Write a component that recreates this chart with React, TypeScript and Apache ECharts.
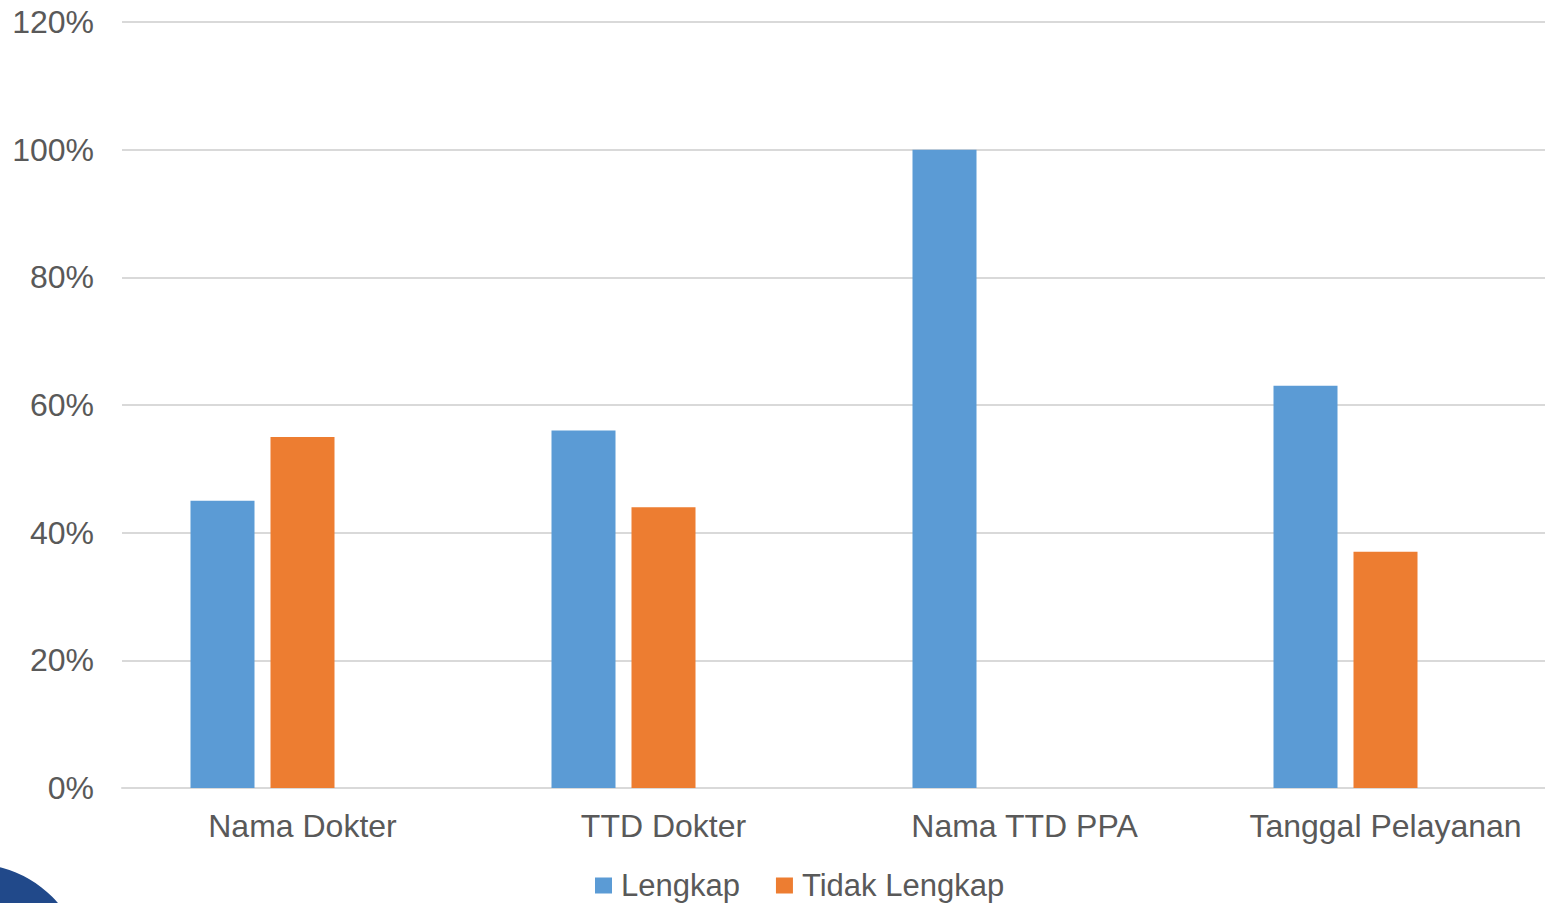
import React, { useEffect, useRef } from "react";
import * as echarts from "echarts";

const categories = ["Nama Dokter", "TTD Dokter", "Nama TTD PPA", "Tanggal Pelayanan"];
const lengkap = [45, 56, 100, 63];
const tidakLengkap = [55, 44, 0, 37];
const yTicks = { min: 0, max: 120, interval: 20 };

const FONT = "'Liberation Sans', Arial, sans-serif";
const TEXT = "#595959";

export default function App() {
  const ref = useRef<HTMLDivElement>(null);
  useEffect(() => {
    if (!ref.current) return;
    const chart = echarts.init(ref.current, null, { renderer: "svg" });
    chart.setOption({
      animation: false,
      backgroundColor: "#ffffff",
      textStyle: { fontFamily: FONT },
      grid: { left: 122, right: 0, top: 22, bottom: 115, containLabel: false },
      legend: {
        data: ["Lengkap", "Tidak Lengkap"],
        left: 595,
        top: 870,
        padding: 0,
        itemWidth: 17,
        itemHeight: 16,
        itemGap: 36,
        icon: "rect",
        textStyle: { color: TEXT, fontSize: 31, fontFamily: FONT, padding: [0, 0, 0, 4] },
      },
      xAxis: {
        type: "category",
        data: categories,
        axisLine: { show: true, lineStyle: { color: "#D9D9D9", width: 2 } },
        axisTick: { show: false },
        axisLabel: { color: TEXT, fontSize: 32, fontFamily: FONT, margin: 22, interval: 0 },
      },
      yAxis: {
        type: "value",
        min: yTicks.min,
        max: yTicks.max,
        interval: yTicks.interval,
        axisLine: { show: false },
        axisTick: { show: false },
        axisLabel: { color: TEXT, fontSize: 32, fontFamily: FONT, margin: 28, formatter: "{value}%" },
        splitLine: { lineStyle: { color: "#D9D9D9", width: 2 } },
      },
      series: [
        {
          name: "Lengkap",
          type: "bar",
          data: lengkap,
          barWidth: 64,
          barGap: "25%",
          itemStyle: { color: "#5B9BD5" },
        },
        {
          name: "Tidak Lengkap",
          type: "bar",
          data: tidakLengkap,
          barWidth: 64,
          barGap: "25%",
          itemStyle: { color: "#ED7D31" },
        },
        {
          name: "_empty",
          type: "bar",
          data: [null, null, null, null],
          barWidth: 64,
          barGap: "25%",
          itemStyle: { color: "#A5A5A5" },
        },
      ],
      graphic: [
        {
          type: "circle",
          shape: { cx: -27, cy: 976, r: 112 },
          style: { fill: "#21498A" },
          z: 10,
        },
      ],
    });
    return () => chart.dispose();
  }, []);
  return (
    <div
      style={{ position: "fixed", left: 0, top: 0, width: 1545, height: 903, overflow: "hidden", background: "#fff" }}
    >
      <div ref={ref} style={{ width: 1566, height: 903 }} />
    </div>
  );
}
